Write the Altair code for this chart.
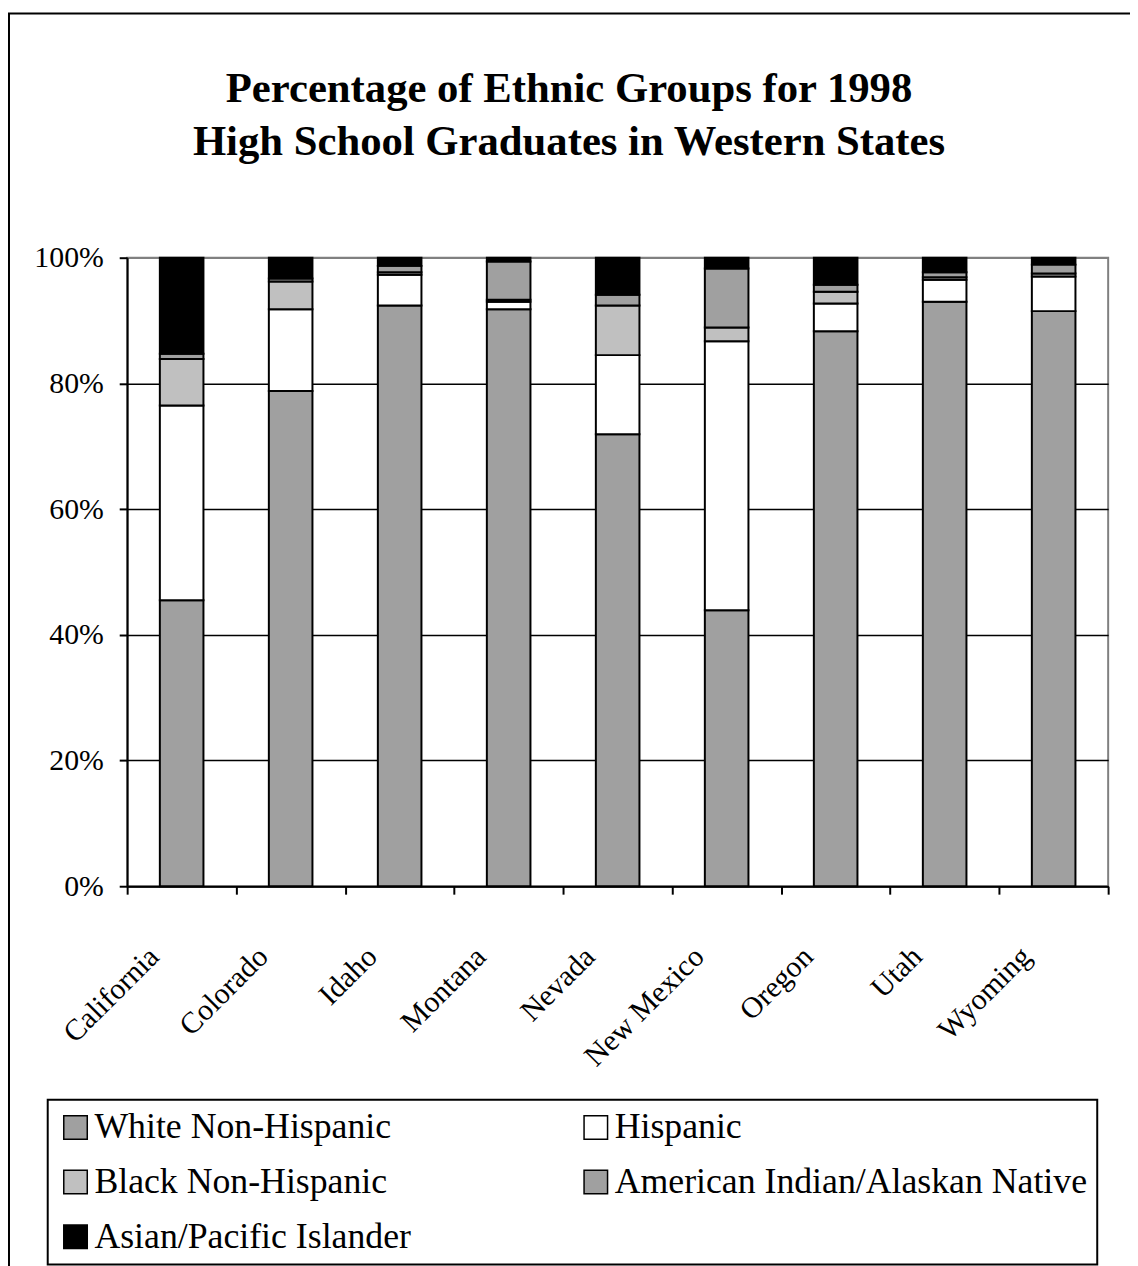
import altair as alt
import pandas as pd

states = ["California", "Colorado", "Idaho", "Montana", "Nevada",
          "New Mexico", "Oregon", "Utah", "Wyoming"]
groups = ["White Non-Hispanic", "Hispanic", "Black Non-Hispanic",
          "American Indian/Alaskan Native", "Asian/Pacific Islander"]

white_non_hispanic = [45.5, 78.8, 92.4, 91.8, 71.9, 43.9, 88.3, 93.0, 91.5]
hispanic = [31.0, 13.0, 4.9, 1.2, 12.6, 42.8, 4.4, 3.5, 5.5]
black_non_hispanic = [7.4, 4.4, 0.4, 0.3, 7.9, 2.2, 1.9, 0.4, 0.5]
american_indian = [0.8, 0.5, 1.0, 6.1, 1.7, 9.4, 1.1, 0.8, 1.4]
asian_pacific = [15.3, 3.3, 1.3, 0.6, 5.9, 1.7, 4.3, 2.3, 1.1]

group_colors = {
    "White Non-Hispanic": "#a0a0a0",
    "Hispanic": "#ffffff",
    "Black Non-Hispanic": "#c0c0c0",
    "American Indian/Alaskan Native": "#a0a0a0",
    "Asian/Pacific Islander": "#000000",
}
# legend fills column by column (3 rows x 2 columns)
legend_order = ["White Non-Hispanic", "Black Non-Hispanic", "Asian/Pacific Islander",
                "Hispanic", "American Indian/Alaskan Native"]
y_ticks = [0, 0.2, 0.4, 0.6, 0.8, 1.0]

series = [white_non_hispanic, hispanic, black_non_hispanic, american_indian, asian_pacific]
rows = []
for gi, (g, vals) in enumerate(zip(groups, series)):
    for s, v in zip(states, vals):
        rows.append({"state": s, "group": g, "order": gi, "value": v})
df = pd.DataFrame(rows)

FONT = "Liberation Serif"

bars = alt.Chart(df).mark_bar(
    stroke="black", strokeWidth=2, width=alt.RelativeBandSize(0.4)
).encode(
    x=alt.X("state:N", sort=states,
            scale=alt.Scale(paddingInner=0, paddingOuter=0),
            axis=alt.Axis(title=None, labelAngle=315, labelAlign="right",
                          labelBaseline="middle", labelOffset=-28,
                          labelPadding=58, tickBand="extent", grid=False)),
    y=alt.Y("value:Q", stack="normalize", scale=alt.Scale(domain=[0, 1]),
            axis=alt.Axis(title=None, format=".0%", values=y_ticks, grid=True,
                          labelPadding=16,
                          gridColor=alt.condition("datum.value >= 1",
                                                  alt.value("#808080"),
                                                  alt.value("black")))),
    color=alt.Color("group:N",
                    scale=alt.Scale(domain=legend_order,
                                    range=[group_colors[g] for g in legend_order]),
                    legend=alt.Legend(title=None, orient="none", legendX=-80,
                                      legendY=848, columns=2,
                                      symbolType="square", symbolSize=560,
                                      symbolStrokeColor="black",
                                      symbolStrokeWidth=1.5,
                                      labelFont=FONT, labelFontSize=36,
                                      labelColor="black", labelOffset=1,
                                      labelLimit=800, columnPadding=168,
                                      rowPadding=19, padding=10,
                                      strokeColor="black")),
    order=alt.Order("order:Q", sort="ascending"),
)

frame = alt.Chart(pd.DataFrame({"k": [0]})).mark_rect(
    filled=False, stroke="black", strokeWidth=2, clip=False
).encode(
    x=alt.value(-119), x2=alt.value(1400),
    y=alt.value(-246), y2=alt.value(1400),
)

chart = alt.layer(bars, frame).properties(
    width=988, height=633,
    autosize=alt.AutoSizeParams(type="none"),
    padding={"left": 120, "top": 247, "right": 22, "bottom": 378},
    background="white",
    title=alt.TitleParams(
        ["Percentage of Ethnic Groups for 1998",
         "High School Graduates in Western States"],
        font=FONT, fontSize=43, fontWeight="bold", color="black",
        anchor="middle", dx=-49, dy=247, offset=94, lineHeight=54),
).configure_view(
    stroke="#808080", strokeWidth=2
).configure_axis(
    domainColor="black", domainWidth=2, tickColor="black", tickWidth=2,
    tickSize=8, labelFont=FONT, labelFontSize=30, labelColor="black",
    gridWidth=1.5
).configure_legend(
    strokeWidth=2
)

chart.save("out.html", embed_options={"renderer": "svg", "actions": False})
